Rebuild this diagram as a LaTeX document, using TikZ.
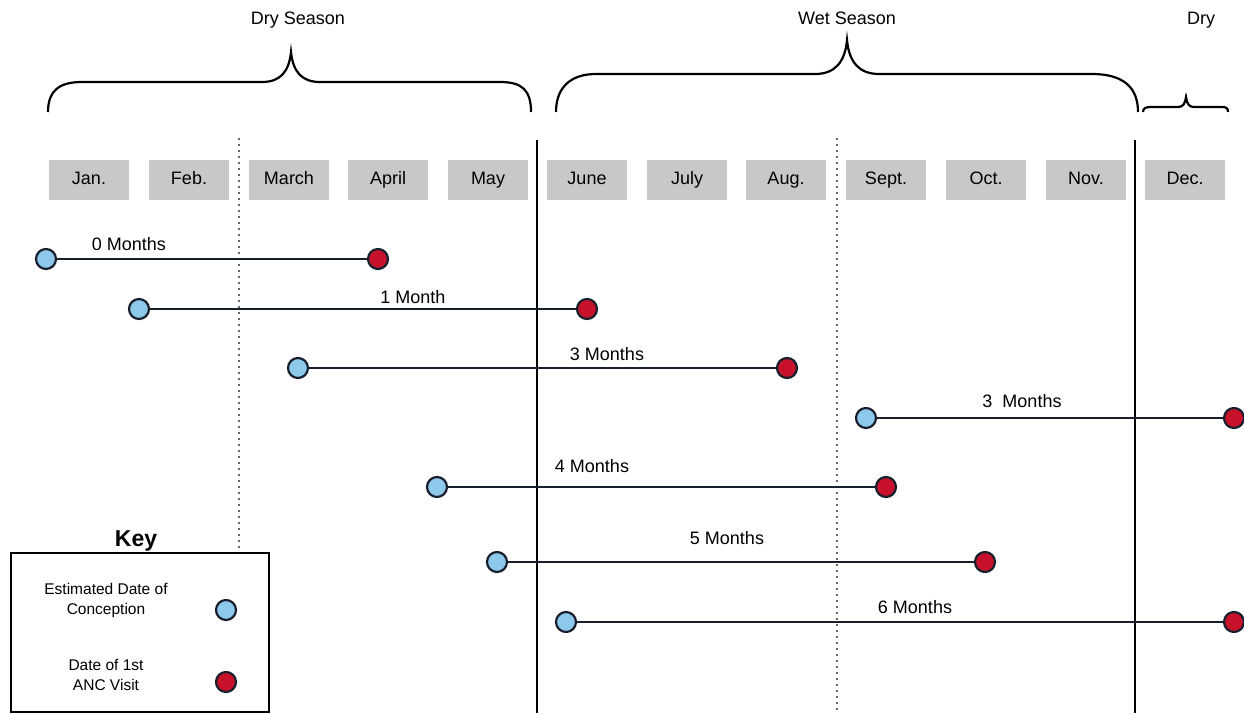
\documentclass[tikz,border=0pt]{standalone}
\usepackage{fontspec}
\setmainfont{Liberation Sans}
\definecolor{dotblue}{RGB}{142,200,235}
\definecolor{dotred}{RGB}{200,18,44}
\definecolor{dotline}{RGB}{25,32,45}
\definecolor{monthgray}{RGB}{200,200,200}
\begin{document}
\begin{tikzpicture}[x=1pt,y=-1pt,
  txt/.style={font=\fontsize{18}{21}\selectfont, inner sep=0pt, text height=12.5pt, text depth=3.5pt},
  keytxt/.style={font=\fontsize{15.5}{20}\selectfont, inner sep=0pt, align=center},
  monthbox/.style={fill=monthgray, minimum width=80pt, minimum height=40pt, inner sep=0pt, text height=12.5pt, text depth=3.5pt, font=\fontsize{18}{21}\selectfont},
  bluedot/.style={circle, draw=dotline, line width=2.2pt, fill=dotblue, minimum size=20pt, inner sep=0pt},
  reddot/.style={circle, draw=dotline, line width=2.2pt, fill=dotred, minimum size=20pt, inner sep=0pt},
  span/.style={draw=dotline, line width=2.5pt},
  brace/.style={draw=black, line width=2.2pt},
  divider/.style={draw=black, line width=2.2pt},
  dotdiv/.style={draw=black!60, line width=1.6pt, dash pattern=on 1.6pt off 4.4pt}]
\useasboundingbox (0,0) rectangle (1244,713);

% season labels
\node[txt] (dry1) at (298,20) {Dry Season};
\node[txt] (wet) at (847,20) {Wet Season};
\node[txt] (dry2) at (1201,20) {Dry};

% braces
\draw[brace] (48,112) .. controls (48,90) and (60,82) .. (82,82) -- (262,82)
  .. controls (280,82) and (289,72) .. (291,52)
  .. controls (293,72) and (302,82) .. (320,82) -- (500,82)
  .. controls (522,82) and (531,90) .. (531,112);
\draw[brace] (556,112) .. controls (556,88) and (570,74) .. (596,74) -- (815,74)
  .. controls (835,74) and (845,62) .. (847,40)
  .. controls (849,62) and (859,74) .. (879,74) -- (1092,74)
  .. controls (1124,74) and (1138,88) .. (1138,112);
\draw[brace] (1143,112) .. controls (1143,108) and (1146,107) .. (1151,107) -- (1178,107)
  .. controls (1183,107) and (1185,104) .. (1186,97)
  .. controls (1187,104) and (1189,107) .. (1194,107) -- (1222,107)
  .. controls (1226,107) and (1228,108) .. (1228,112);

% dividers
\coordinate (d1t) at (239,138); \coordinate (d1b) at (239,552);
\coordinate (d2t) at (837,138); \coordinate (d2b) at (837,713);
\coordinate (s1t) at (537,140); \coordinate (s1b) at (537,713);
\coordinate (s2t) at (1135,140); \coordinate (s2b) at (1135,713);
\draw[dotdiv] (d1t) -- (d1b);
\draw[dotdiv] (d2t) -- (d2b);
\draw[divider] (s1t) -- (s1b);
\draw[divider] (s2t) -- (s2b);

% months
\node[monthbox] (jan) at (89,180) {Jan.};
\node[monthbox] (feb) at (189,180) {Feb.};
\node[monthbox] (mar) at (289,180) {March};
\node[monthbox] (apr) at (388,180) {April};
\node[monthbox] (may) at (488,180) {May};
\node[monthbox] (jun) at (587,180) {June};
\node[monthbox] (jul) at (687,180) {July};
\node[monthbox] (aug) at (786,180) {Aug.};
\node[monthbox] (sep) at (886,180) {Sept.};
\node[monthbox] (oct) at (986,180) {Oct.};
\node[monthbox] (nov) at (1086,180) {Nov.};
\node[monthbox] (dec) at (1185,180) {Dec.};

% rows
\node[bluedot] (b1) at (46,259) {};
\node[reddot] (r1) at (378,259) {};
\draw[span] (b1) -- (r1);
\node[txt] (l1) at (129,246) {0 Months};

\node[bluedot] (b2) at (139,309) {};
\node[reddot] (r2) at (587,309) {};
\draw[span] (b2) -- (r2);
\node[txt] (l2) at (413,299) {1 Month};

\node[bluedot] (b3) at (298,368) {};
\node[reddot] (r3) at (787,368) {};
\draw[span] (b3) -- (r3);
\node[txt] (l3) at (607,356) {3 Months};

\node[bluedot] (b4) at (866,418) {};
\node[reddot] (r4) at (1234,418) {};
\draw[span] (b4) -- (r4);
\node[txt] (l4) at (1022,403) {3\ \ Months};

\node[bluedot] (b5) at (437,487) {};
\node[reddot] (r5) at (886,487) {};
\draw[span] (b5) -- (r5);
\node[txt] (l5) at (592,468) {4 Months};

\node[bluedot] (b6) at (497,562) {};
\node[reddot] (r6) at (985,562) {};
\draw[span] (b6) -- (r6);
\node[txt] (l6) at (727,540) {5 Months};

\node[bluedot] (b7) at (566,622) {};
\node[reddot] (r7) at (1234,622) {};
\draw[span] (b7) -- (r7);
\node[txt] (l7) at (915,609) {6 Months};

% key
\node[draw=black, line width=2pt, fill=white, minimum width=258pt, minimum height=159pt, anchor=north west, inner sep=0pt] (key) at (10,552) {};
\node[inner sep=0pt, font=\fontsize{23}{26}\selectfont\bfseries] (keyt) at (136,541) {Key};
\node[keytxt] (k1) at (106,600) {Estimated Date of\\Conception};
\node[bluedot] (kb) at (226,610) {};
\node[keytxt] (k2) at (106,675) {Date of 1st\\ANC Visit};
\node[reddot] (kr) at (226,682) {};
\end{tikzpicture}
\end{document}
